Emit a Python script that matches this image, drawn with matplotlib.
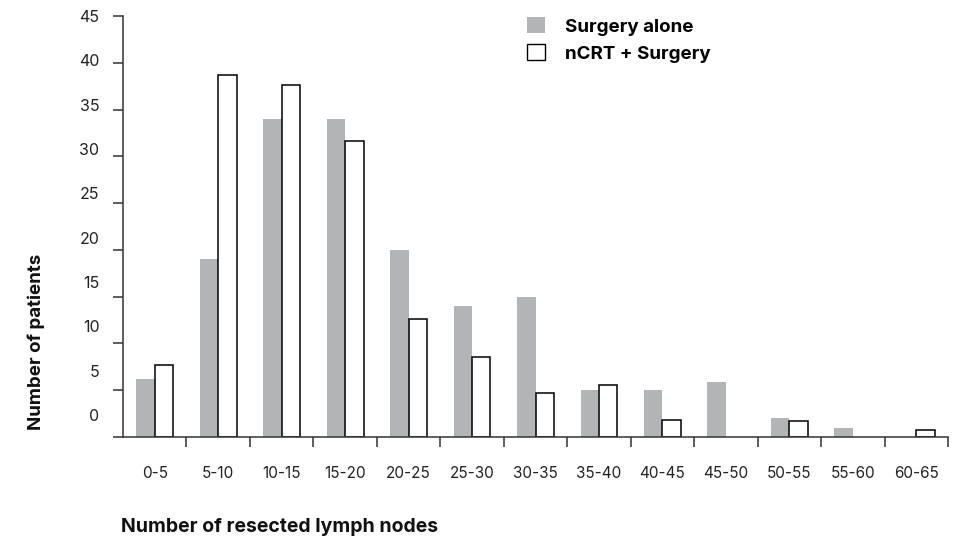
import numpy as np
import matplotlib.pyplot as plt
from matplotlib.patches import Patch

# Datos
categorias = ['0-5', '5-10', '10-15', '15-20', '20-25', '25-30', '30-35',
              '35-40', '40-45', '45-50', '50-55', '55-60', '60-65']
solo_cirugia = [6.2, 19, 34, 34, 20, 14, 15, 5, 5, 5.9, 2, 1, 0]
ncrt_cirugia = [7.7, 38.7, 37.6, 31.6, 12.6, 8.6, 4.7, 5.6, 1.8, 0, 1.7, 0, 0.7]
valores_y = [0, 5, 10, 15, 20, 25, 30, 35, 40, 45]

plt.rcParams['font.family'] = ['Inter', 'DejaVu Sans']
gris = '#b3b4b6'
eje = '#333333'

fig = plt.figure(figsize=(9.6, 5.41), dpi=100)
ax = fig.add_axes([123 / 960, 1 - 437 / 541, 825 / 960, 421 / 541])

x = np.arange(len(categorias)) + 0.5
ancho = 0.29
solo = np.array(solo_cirugia)
ncrt = np.array(ncrt_cirugia)
# barras con valor 0 no se dibujan
ax.bar((x - ancho / 2)[solo > 0], solo[solo > 0], ancho, color=gris, linewidth=0)
ax.bar((x + ancho / 2)[ncrt > 0], ncrt[ncrt > 0], ancho, color='white',
       edgecolor='black', linewidth=1.1)

ax.set_xlim(0, len(categorias))
ax.set_ylim(0, 45)

# Marcas del eje x entre grupos, etiquetas en el centro
ax.set_xticks(np.arange(1, len(categorias) + 1))
ax.set_xticklabels([])
ax.set_xticks(x, minor=True)
ax.set_xticklabels(categorias, minor=True, fontsize=11, color='#222222')
ax.tick_params(axis='x', which='major', length=7, width=1.1, color=eje, direction='out')
ax.tick_params(axis='x', which='minor', length=0, pad=21)

# Marcas del eje y; las etiquetas están algo desplazadas en el original
ax.set_yticks(valores_y)
ax.set_yticklabels([])
pos_etiquetas = [2.35 + v * 0.948 for v in valores_y]
ax.set_yticks(pos_etiquetas, minor=True)
ax.set_yticklabels([str(v) for v in valores_y], minor=True, fontsize=11.5, color='#222222')
ax.tick_params(axis='y', which='major', length=7, width=1.1, color=eje, direction='out')
ax.tick_params(axis='y', which='minor', length=0, pad=17)

for lado in ['top', 'right']:
    ax.spines[lado].set_visible(False)
for lado in ['left', 'bottom']:
    ax.spines[lado].set_color(eje)
    ax.spines[lado].set_linewidth(1.1)

elementos = [Patch(facecolor=gris, edgecolor='none', label='Surgery alone'),
             Patch(facecolor='white', edgecolor='black', linewidth=1.0, label='nCRT + Surgery')]
ax.legend(handles=elementos, loc='upper left', bbox_to_anchor=(0.469, 1.037), frameon=False,
          handlelength=0.95, handleheight=0.95, handletextpad=1.1, labelspacing=0.45,
          prop={'weight': 'bold', 'size': 13.5})

fig.text(0.0375, 1 - 342 / 541, 'Number of patients', rotation=90, ha='center', va='center',
         fontsize=13.5, fontweight='bold', color='#111111')
fig.text(121 / 960, 1 - 527 / 541, 'Number of resected lymph nodes', ha='left', va='center',
         fontsize=14, fontweight='bold', color='#111111')

fig.savefig('out.png', dpi=100)
